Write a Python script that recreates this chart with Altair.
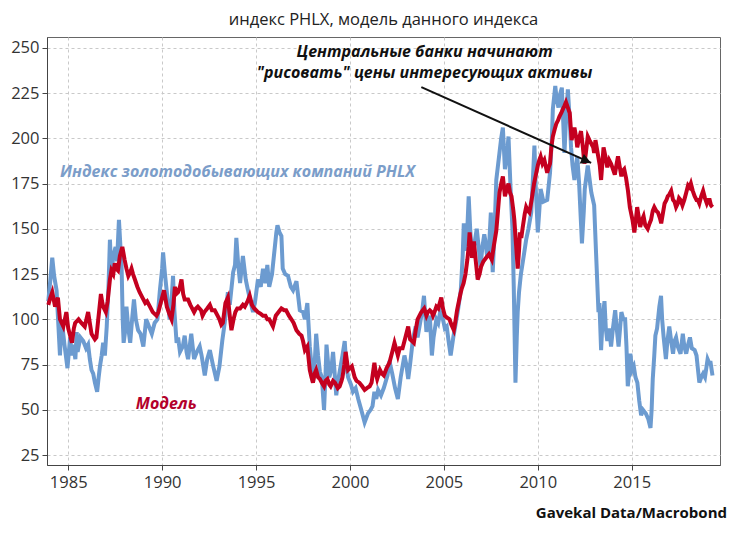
import altair as alt
import pandas as pd

# PHLX gold miners index (blue)
blue_year = [1983.94,1984.05,1984.15,1984.25,1984.38,1984.48,1984.56,1984.65,1984.8,1984.96,1985.1,1985.2,1985.27,1985.38,1985.45,1985.5,1985.65,1985.8,1985.95,1986.06,1986.15,1986.24,1986.33,1986.42,1986.54,1986.62,1986.69,1986.78,1986.86,1986.95,1987.05,1987.15,1987.22,1987.3,1987.4,1987.52,1987.6,1987.7,1987.78,1987.84,1987.9,1987.95,1988.05,1988.1,1988.2,1988.3,1988.4,1988.5,1988.6,1988.72,1988.85,1989.0,1989.15,1989.3,1989.45,1989.6,1989.75,1989.88,1990.0,1990.05,1990.15,1990.25,1990.4,1990.5,1990.58,1990.65,1990.77,1990.85,1990.95,1991.1,1991.2,1991.3,1991.38,1991.55,1991.7,1991.85,1992.0,1992.1,1992.27,1992.4,1992.54,1992.7,1992.9,1993.05,1993.2,1993.33,1993.45,1993.5,1993.6,1993.78,1993.88,1993.95,1994.05,1994.15,1994.3,1994.45,1994.57,1994.7,1994.84,1994.95,1995.1,1995.25,1995.37,1995.5,1995.6,1995.7,1995.85,1996.0,1996.08,1996.14,1996.25,1996.35,1996.42,1996.55,1996.7,1996.85,1996.97,1997.15,1997.33,1997.5,1997.6,1997.73,1997.86,1997.95,1998.03,1998.12,1998.2,1998.3,1998.4,1998.5,1998.62,1998.7,1998.75,1998.9,1999.0,1999.1,1999.2,1999.27,1999.35,1999.45,1999.6,1999.72,1999.8,1999.9,2000.05,2000.16,2000.3,2000.44,2000.6,2000.78,2000.96,2001.1,2001.2,2001.3,2001.4,2001.5,2001.65,2001.8,2002.0,2002.1,2002.25,2002.4,2002.55,2002.7,2002.9,2003.0,2003.1,2003.2,2003.35,2003.5,2003.6,2003.7,2003.85,2003.94,2004.07,2004.15,2004.25,2004.36,2004.45,2004.6,2004.7,2004.8,2004.95,2005.05,2005.15,2005.25,2005.36,2005.5,2005.6,2005.75,2005.9,2006.0,2006.06,2006.15,2006.2,2006.32,2006.4,2006.5,2006.6,2006.75,2006.85,2006.95,2007.05,2007.15,2007.2,2007.3,2007.4,2007.5,2007.6,2007.7,2007.79,2007.88,2007.96,2008.05,2008.14,2008.25,2008.35,2008.44,2008.55,2008.65,2008.72,2008.81,2008.88,2008.93,2009.0,2009.1,2009.25,2009.38,2009.5,2009.65,2009.75,2009.82,2009.9,2010.0,2010.08,2010.15,2010.3,2010.5,2010.65,2010.75,2010.8,2010.93,2011.0,2011.1,2011.2,2011.28,2011.35,2011.42,2011.5,2011.6,2011.7,2011.77,2011.85,2011.95,2012.1,2012.2,2012.35,2012.45,2012.5,2012.66,2012.75,2012.85,2013.0,2013.1,2013.23,2013.28,2013.37,2013.45,2013.55,2013.62,2013.7,2013.8,2013.9,2014.0,2014.12,2014.2,2014.3,2014.45,2014.55,2014.65,2014.72,2014.79,2014.86,2014.93,2015.02,2015.11,2015.2,2015.3,2015.4,2015.5,2015.6,2015.75,2015.88,2016.0,2016.06,2016.12,2016.2,2016.26,2016.35,2016.47,2016.56,2016.62,2016.7,2016.82,2016.9,2017.0,2017.1,2017.2,2017.28,2017.36,2017.45,2017.6,2017.72,2017.8,2017.9,2018.0,2018.1,2018.2,2018.35,2018.45,2018.55,2018.6,2018.7,2018.8,2018.9,2019.04,2019.12,2019.2,2019.3]
blue_val = [110,122,134,124,116,96,80,100,86,73,90,80,86,78,93,82,90,88,84,86,78,72,70,65,60,68,74,80,87,80,96,120,144,125,135,140,132,155,140,130,100,87,95,107,95,87,100,111,100,94,92,85,100,96,92,98,100,116,128,137,125,115,100,110,124,105,87,90,82,85,91,82,78,92,78,82,85,80,69,78,83,75,66,74,88,98,110,115,108,126,130,145,130,120,135,122,116,110,104,110,122,118,128,120,130,118,125,140,148,152,148,146,128,125,124,118,116,121,105,104,100,109,85,75,65,75,92,80,71,68,50,70,86,68,72,82,68,58,65,71,80,88,75,68,64,60,62,56,50,43,48,50,52,60,56,61,58,62,69,77,70,62,56,68,80,75,67,75,89,96,90,96,105,113,93,98,102,80,90,100,98,104,100,95,96,88,80,90,96,105,116,135,153,140,138,168,150,134,140,150,140,129,140,147,144,135,139,159,126,150,177,185,192,200,206,183,190,201,172,150,118,65,90,104,115,125,135,144,150,159,180,196,170,148,160,172,165,166,181,200,216,229,222,217,225,228,210,192,210,227,210,195,185,177,190,175,142,160,172,185,178,170,163,137,104,109,83,100,110,95,88,95,85,95,105,95,85,104,100,100,85,63,70,81,72,74,68,65,55,47,50,48,45,40,50,67,80,91,95,107,113,100,90,78,88,96,88,81,88,90,85,81,92,85,81,86,90,84,83,80,70,65,68,70,68,78,76,76,69]

# Model (red)
red_year = [1983.94,1984.05,1984.15,1984.3,1984.45,1984.56,1984.65,1984.74,1984.9,1985.0,1985.1,1985.2,1985.3,1985.37,1985.55,1985.7,1985.88,1986.06,1986.15,1986.24,1986.42,1986.5,1986.6,1986.74,1986.8,1986.86,1987.0,1987.1,1987.22,1987.3,1987.4,1987.48,1987.56,1987.65,1987.75,1987.88,1987.95,1988.0,1988.1,1988.2,1988.3,1988.37,1988.45,1988.55,1988.68,1988.8,1988.95,1989.1,1989.2,1989.35,1989.5,1989.6,1989.7,1989.8,1989.9,1990.0,1990.1,1990.25,1990.38,1990.5,1990.6,1990.68,1990.75,1990.85,1990.95,1991.03,1991.12,1991.2,1991.38,1991.5,1991.55,1991.7,1991.8,1991.9,1992.07,1992.15,1992.25,1992.4,1992.54,1992.65,1992.8,1992.95,1993.05,1993.15,1993.23,1993.37,1993.5,1993.6,1993.69,1993.8,1993.9,1994.0,1994.15,1994.3,1994.4,1994.55,1994.66,1994.78,1994.9,1995.0,1995.1,1995.25,1995.37,1995.5,1995.6,1995.7,1995.8,1995.9,1996.05,1996.2,1996.35,1996.5,1996.6,1996.75,1996.88,1997.0,1997.15,1997.3,1997.42,1997.5,1997.6,1997.73,1997.8,1997.86,1997.95,1998.03,1998.12,1998.2,1998.3,1998.4,1998.5,1998.62,1998.7,1998.8,1998.9,1998.97,1999.1,1999.2,1999.35,1999.45,1999.55,1999.6,1999.7,1999.77,1999.85,1999.9,2000.0,2000.1,2000.25,2000.35,2000.5,2000.65,2000.78,2000.9,2001.05,2001.15,2001.3,2001.38,2001.45,2001.6,2001.7,2001.8,2001.95,2002.1,2002.25,2002.37,2002.45,2002.55,2002.65,2002.8,2002.95,2003.1,2003.2,2003.3,2003.4,2003.5,2003.6,2003.7,2003.8,2003.95,2004.07,2004.15,2004.25,2004.35,2004.42,2004.5,2004.6,2004.7,2004.86,2004.95,2005.05,2005.15,2005.3,2005.4,2005.53,2005.6,2005.7,2005.8,2005.88,2005.95,2006.05,2006.15,2006.25,2006.32,2006.37,2006.43,2006.5,2006.6,2006.7,2006.8,2006.9,2006.98,2007.1,2007.25,2007.4,2007.5,2007.55,2007.65,2007.79,2007.88,2007.96,2008.05,2008.14,2008.25,2008.35,2008.44,2008.52,2008.6,2008.7,2008.75,2008.85,2008.93,2009.0,2009.05,2009.12,2009.2,2009.3,2009.38,2009.47,2009.55,2009.62,2009.7,2009.8,2009.9,2010.0,2010.08,2010.15,2010.25,2010.35,2010.5,2010.58,2010.65,2010.72,2010.8,2010.9,2010.98,2011.08,2011.15,2011.25,2011.33,2011.42,2011.5,2011.6,2011.7,2011.8,2011.88,2011.95,2012.05,2012.1,2012.2,2012.3,2012.4,2012.48,2012.56,2012.66,2012.75,2012.85,2012.95,2013.0,2013.07,2013.2,2013.3,2013.37,2013.45,2013.5,2013.6,2013.7,2013.8,2013.9,2014.0,2014.1,2014.2,2014.27,2014.35,2014.45,2014.52,2014.6,2014.7,2014.8,2014.9,2015.04,2015.14,2015.22,2015.29,2015.38,2015.45,2015.55,2015.63,2015.72,2015.85,2015.95,2016.03,2016.12,2016.2,2016.3,2016.4,2016.5,2016.57,2016.65,2016.75,2016.85,2016.92,2017.0,2017.1,2017.2,2017.28,2017.36,2017.45,2017.52,2017.6,2017.7,2017.8,2017.9,2018.0,2018.08,2018.15,2018.25,2018.35,2018.45,2018.52,2018.6,2018.7,2018.8,2018.9,2019.0,2019.08,2019.15,2019.22,2019.3]
red_val = [108,112,115,107,112,100,98,96,104,95,91,87,95,98,100,98,96,104,98,92,89,90,100,114,110,107,104,110,122,127,125,131,128,127,135,140,136,133,128,124,126,128,125,122,118,115,112,109,110,107,104,103,102,104,108,112,116,107,103,100,108,118,114,115,118,122,114,111,111,108,107,104,106,107,105,102,104,106,108,105,105,102,100,97,98,109,112,102,94,100,104,106,106,108,107,110,113,108,106,105,104,103,102,102,100,100,98,96,102,104,106,105,105,102,100,98,94,92,91,88,83,85,78,72,68,65,70,72,68,67,65,63,66,67,64,63,66,65,62,63,66,68,75,82,76,72,73,74,68,66,65,63,61,62,63,65,76,70,67,72,70,69,73,76,82,87,84,80,84,84,90,96,89,88,87,94,100,102,104,106,102,104,105,104,102,104,107,106,112,106,102,101,100,97,94,98,105,110,114,117,120,125,133,140,148,142,134,143,132,122,125,129,132,134,136,134,133,140,149,160,170,175,179,168,172,175,170,168,160,155,140,128,138,148,145,151,158,162,160,159,163,168,175,180,185,188,190,186,188,181,184,186,195,201,205,208,210,212,214,216,218,220,217,214,199,203,206,200,195,200,204,195,186,192,201,199,197,195,192,199,191,185,177,188,195,190,184,188,186,183,180,186,190,185,179,182,183,178,171,162,155,148,155,162,156,151,155,157,152,150,153,155,160,162,160,159,156,153,158,164,166,168,169,171,166,165,162,164,167,166,163,166,170,174,173,175,171,168,166,166,164,168,171,167,164,166,166,163,162]

title_text = "индекс PHLX, модель данного индекса"
note_lines = ["Центральные банки начинают", "\"рисовать\" цены интересующих активы"]
note_year = [2003.97, 2003.97]
note_val = [247.6, 236.0]
arrow_year = [2003.8, 2012.84]
arrow_val = [228.3, 186.4]
label_blue = "Индекс золотодобывающих компаний PHLX"
label_red = "Модель"
source_text = "Gavekal Data/Macrobond"
x_ticks = [1985, 1990, 1995, 2000, 2005, 2010, 2015]
y_ticks = [25, 50, 75, 100, 125, 150, 175, 200, 225, 250]

BLUE = "#6c9bd0"
RED = "#c4001f"
FONT = "Open Sans"

df = pd.concat([
    pd.DataFrame({"year": blue_year, "value": blue_val, "series": "PHLX"}),
    pd.DataFrame({"year": red_year, "value": red_val, "series": "Model"}),
])

xs = alt.Scale(domain=[1983.87, 2019.7], nice=False, zero=False)
ys = alt.Scale(domain=[19.5, 256], nice=False, zero=False)

X = alt.X("year:Q", scale=xs, title=None,
          axis=alt.Axis(values=x_ticks, format="d", labelFontSize=16.5, labelPadding=4,
                        tickSize=5, grid=True))
Y = alt.Y("value:Q", scale=ys, title=None,
          axis=alt.Axis(values=y_ticks, labelFontSize=16.5, labelPadding=3,
                        tickSize=5, grid=True))

blue_line = alt.Chart(df[df.series == "PHLX"]).mark_line(strokeWidth=4, color=BLUE).encode(
    x=X, y=Y, order="year:Q")
red_line = alt.Chart(df[df.series == "Model"]).mark_line(strokeWidth=4, color=RED).encode(
    x=alt.X("year:Q", scale=xs), y=alt.Y("value:Q", scale=ys), order="year:Q")

note_df = pd.DataFrame({"year": note_year, "value": note_val, "text": note_lines})
note = alt.Chart(note_df).mark_text(font=FONT, fontSize=16, fontWeight="bold", fontStyle="italic",
                                    color="#111", align="center", baseline="middle").encode(
    x=alt.X("year:Q", scale=xs), y=alt.Y("value:Q", scale=ys), text="text:N")

arrow_df = pd.DataFrame({"year": arrow_year, "value": arrow_val})
arrow = alt.Chart(arrow_df).mark_line(color="#111", strokeWidth=2).encode(
    x=alt.X("year:Q", scale=xs), y=alt.Y("value:Q", scale=ys))
head = alt.Chart(arrow_df.iloc[[1]]).mark_point(
    shape="M0,0 L-1,-0.5 L-1,0.5 Z", size=420, filled=True, color="#111", opacity=1, angle=24).encode(
    x=alt.X("year:Q", scale=xs), y=alt.Y("value:Q", scale=ys))

lab_df = pd.DataFrame({"year": [1984.56, 1988.6], "value": [181.6, 53.0],
                       "text": [label_blue, label_red], "c": ["b", "r"]})
labels = alt.Chart(lab_df).mark_text(font=FONT, fontSize=16, fontWeight="bold", fontStyle="italic",
                                     align="left", baseline="middle").encode(
    x=alt.X("year:Q", scale=xs), y=alt.Y("value:Q", scale=ys), text="text:N",
    color=alt.Color("c:N", scale=alt.Scale(domain=["b", "r"], range=["#7b9dc9", "#b3002b"]), legend=None))

title = alt.Chart(pd.DataFrame({"t": [title_text]})).mark_text(
    font=FONT, fontSize=16.5, color="#222", align="center", baseline="middle").encode(
    x=alt.value(336.5), y=alt.value(-17.5), text="t:N")
source = alt.Chart(pd.DataFrame({"t": [source_text]})).mark_text(
    font=FONT, fontSize=15, fontWeight="bold", color="#111", align="right", baseline="middle").encode(
    x=alt.value(680), y=alt.value(476), text="t:N")

chart = alt.layer(blue_line, red_line, arrow, head, note, labels, title, source).properties(
    width=673, height=428,
    autosize=alt.AutoSizeParams(type="none"),
    padding={"left": 39, "top": 29, "right": 14, "bottom": 62},
).configure_view(stroke="#666", strokeWidth=1).configure_axis(
    labelFont=FONT, labelColor="#333", domainColor="#444", tickColor="#444",
    gridColor="#c9c9c9", gridDash=[3, 3], gridWidth=1,
)

chart.save("out.html", embed_options={"renderer": "svg", "actions": False})
